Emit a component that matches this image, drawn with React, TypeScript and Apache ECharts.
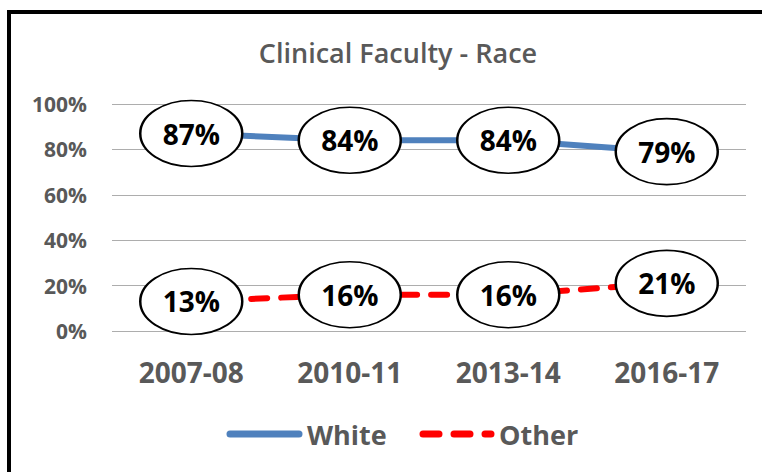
import React, { useEffect, useRef } from "react";
import * as echarts from "echarts";

const categories = ["2007-08", "2010-11", "2013-14", "2016-17"];
const whiteValues = [87, 84, 84, 79];
const otherValues = [13, 16, 16, 21];
const yTicks = { min: 0, max: 100, interval: 20 };
const titleText = "Clinical Faculty - Race";
const seriesNames = ["White", "Other"];

const FONT = "'Open Sans', 'Liberation Sans', sans-serif";
const GRAY = "#595959";
const BLUE = "#4F81BD";
const RED = "#FF0000";
const ELLIPSE = "path://M0,50 A50,50 0 1,1 100,50 A50,50 0 1,1 0,50 Z";

export default function App() {
  const ref = useRef<HTMLDivElement>(null);
  useEffect(() => {
    if (!ref.current) return;
    const chart = echarts.init(ref.current, null, { renderer: "svg" });
    const ellipseSeries = (name: string, data: number[]) => ({
      name,
      type: "scatter",
      data,
      symbol: ELLIPSE,
      symbolSize: [102, 66],
      z: 5,
      itemStyle: { color: "#ffffff", borderColor: "#000000", borderWidth: 2, opacity: 1 },
      label: {
        show: true,
        position: "inside",
        formatter: (p: any) => p.value + "%",
        fontFamily: FONT,
        fontSize: 28,
        fontWeight: "bold",
        color: "#000000",
      },
      emphasis: { disabled: true },
    });
    const legendY = 434;
    chart.setOption({
      animation: false,
      backgroundColor: "#ffffff",
      title: {
        text: titleText,
        left: 393,
        textAlign: "center",
        top: 34,
        textStyle: { fontFamily: FONT, fontSize: 27, fontWeight: 600, color: GRAY },
      },
      grid: { left: 112, right: 16, top: 104, bottom: 141 },
      xAxis: {
        type: "category",
        data: categories,
        boundaryGap: true,
        axisLine: { show: false },
        axisTick: { show: false },
        axisLabel: {
          margin: 27,
          fontFamily: FONT,
          fontSize: 28,
          fontWeight: "bold",
          color: GRAY,
        },
      },
      yAxis: {
        type: "value",
        min: yTicks.min,
        max: yTicks.max,
        interval: yTicks.interval,
        axisLine: { show: false },
        axisTick: { show: false },
        axisLabel: {
          formatter: "{value}%",
          margin: 25,
          fontFamily: FONT,
          fontSize: 21,
          fontWeight: "bold",
          color: GRAY,
        },
        splitLine: { lineStyle: { color: "#ADADAD", width: 1 } },
      },
      series: [
        {
          name: seriesNames[0],
          type: "line",
          data: whiteValues,
          symbol: "none",
          z: 2,
          lineStyle: { color: BLUE, width: 6, cap: "round" },
          itemStyle: { color: BLUE },
        },
        {
          name: seriesNames[1],
          type: "line",
          data: otherValues,
          symbol: "none",
          z: 2,
          lineStyle: { color: RED, width: 6, type: [16, 14], cap: "round" },
          itemStyle: { color: RED },
        },
        ellipseSeries("WhiteLabels", whiteValues),
        ellipseSeries("OtherLabels", otherValues),
      ],
      graphic: [
        {
          type: "rect",
          shape: { x: 9, y: 12, width: 820, height: 520 },
          style: { fill: "none", stroke: "#000000", lineWidth: 4 },
          silent: true,
        },
        {
          type: "line",
          shape: { x1: 230, y1: legendY, x2: 299, y2: legendY },
          style: { stroke: BLUE, lineWidth: 7, lineCap: "round" },
          silent: true,
        },
        {
          type: "text",
          x: 307,
          y: legendY,
          style: {
            text: seriesNames[0],
            fontFamily: FONT,
            fontSize: 27,
            fontWeight: "bold",
            fill: GRAY,
            verticalAlign: "middle",
          },
          silent: true,
        },
        {
          type: "line",
          shape: { x1: 423, y1: legendY, x2: 491, y2: legendY },
          style: { stroke: RED, lineWidth: 7, lineCap: "round", lineDash: [16, 15] },
          silent: true,
        },
        {
          type: "text",
          x: 499,
          y: legendY,
          style: {
            text: seriesNames[1],
            fontFamily: FONT,
            fontSize: 27,
            fontWeight: "bold",
            fill: GRAY,
            verticalAlign: "middle",
          },
          silent: true,
        },
      ],
    });
    return () => chart.dispose();
  }, []);
  return (
    <div
      ref={ref}
      style={{ position: "fixed", left: 0, top: 0, width: 762, height: 472 }}
    />
  );
}
